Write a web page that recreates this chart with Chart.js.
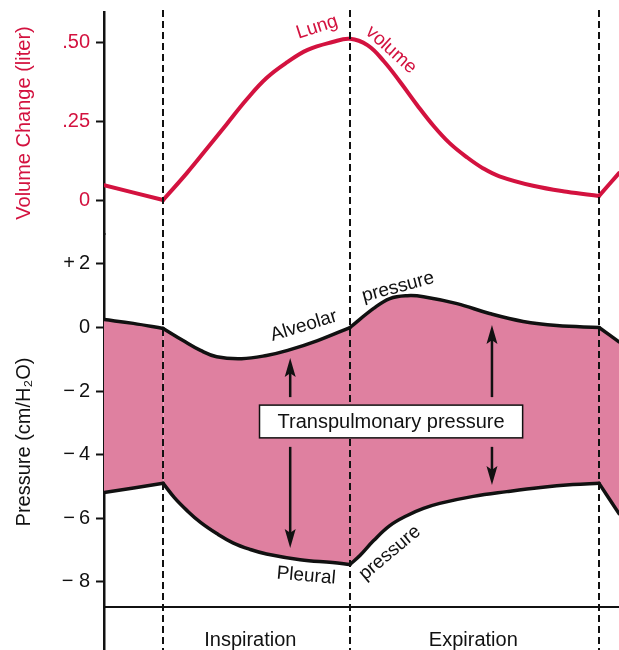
<!DOCTYPE html>
<html>
<head>
<meta charset="utf-8">
<script src="https://cdn.jsdelivr.net/npm/chart.js@4.4.1/dist/chart.umd.min.js"></script>
<style>
  html, body { margin: 0; padding: 0; background: #fff; }
  canvas { display: block; }
</style>
</head>
<body>
<canvas id="c" width="619" height="650"></canvas>
<script>
// Lung volume, alveolar and pleural pressure over one breath.
// x is time in seconds from the start of inspiration.
const phaseBounds = [0, 1.5, 3.5];
const phaseLabels = ["Inspiration", "Expiration"];
const phaseLabelT = [0.7, 2.49];

const volumeT = [-0.475, 0, 0.19, 0.35, 0.51, 0.67, 0.83, 1.0, 1.16, 1.36, 1.5, 1.64, 1.77, 1.9, 2.04, 2.17, 2.3, 2.44, 2.57, 2.7, 2.97, 3.24, 3.5, 3.66];
const volumeL = [0.047, 0, 0.085, 0.162, 0.24, 0.318, 0.386, 0.437, 0.475, 0.5, 0.51, 0.49, 0.44, 0.375, 0.3, 0.235, 0.18, 0.135, 0.1, 0.075, 0.045, 0.026, 0.013, 0.085];

const alveolarT = [-0.475, -0.24, 0, 0.16, 0.3, 0.43, 0.63, 0.83, 1.0, 1.24, 1.5, 1.69, 1.82, 1.96, 2.09, 2.36, 2.62, 2.89, 3.16, 3.5, 3.66];
const alveolarP = [0.25, 0.13, -0.03, -0.41, -0.72, -0.92, -0.98, -0.88, -0.72, -0.41, 0, 0.6, 0.91, 1.0, 0.97, 0.75, 0.44, 0.19, 0.06, 0, -0.45];

const pleuralT = [-0.475, 0, 0.09, 0.19, 0.3, 0.43, 0.56, 0.7, 0.83, 1.1, 1.36, 1.5, 1.58, 1.69, 1.82, 1.96, 2.09, 2.22, 2.49, 2.76, 3.03, 3.29, 3.5, 3.66];
const pleuralP = [-5.19, -4.9, -5.35, -5.75, -6.13, -6.48, -6.77, -6.98, -7.12, -7.3, -7.39, -7.45, -7.17, -6.7, -6.23, -5.91, -5.69, -5.53, -5.31, -5.16, -5.03, -4.94, -4.9, -5.85];

const volumeTicks = [0, 0.25, 0.5];
const volumeTickLabels = ["0", ".25", ".50"];
const pressureTicks = [2, 0, -2, -4, -6, -8];
const pressureTickLabels = ["+\u20092", "0", "\u2212\u20092", "\u2212\u20094", "\u2212\u20096", "\u2212 8"];

// arrows: time, and the pressures their heads point at
const arrowT = [1.02, 2.64];
const arrowUpTip = [-0.96, 0.08];
const arrowDownTip = [-6.93, -4.95];

const FONT = "'Liberation Sans', Arial, Helvetica, sans-serif";
const CRIMSON = "#d3123f";
const PINK = "#df80a0";
const INK = "#111";

const curveLabels = [
  { text: "Lung", t: 1.236, v: 0.547, axis: "volume", angle: -18, color: CRIMSON },
  { text: "volume", t: 1.83, v: 0.475, axis: "volume", angle: 42, color: CRIMSON },
  { text: "Alveolar", t: 1.13, v: 0.05, axis: "pressure", angle: -17, color: INK },
  { text: "pressure", t: 1.886, v: 1.27, axis: "pressure", angle: -15, color: INK },
  { text: "Pleural", t: 1.148, v: -7.81, axis: "pressure", angle: 5, color: INK },
  { text: "pressure", t: 1.82, v: -7.09, axis: "pressure", angle: -40, color: INK },
];

// split a curve at phase boundaries so the corners stay sharp
function split(ts, vs, cuts) {
  const segs = [[]];
  ts.forEach((t, i) => {
    const pt = { x: t, y: vs[i] };
    segs[segs.length - 1].push(pt);
    if (cuts.includes(t) && i > 0 && i < ts.length - 1) segs.push([pt]);
  });
  return segs;
}

const volSegs = split(volumeT, volumeL, [0, 3.5]);
const plSegs = split(pleuralT, pleuralP, phaseBounds);
const alvSegs = split(alveolarT, alveolarP, phaseBounds);

const base = {
  pointRadius: 0, tension: 0.4, fill: false,
  borderCapStyle: "round", borderJoinStyle: "round",
};
const datasets = [
  ...volSegs.map((d) => ({ ...base, data: d, yAxisID: "volume", borderColor: CRIMSON, borderWidth: 4 })),
  ...plSegs.map((d) => ({ ...base, data: d, yAxisID: "pressure", borderColor: INK, borderWidth: 3.5 })),
  ...alvSegs.map((d, i) => ({
    ...base, data: d, yAxisID: "pressure", borderColor: INK, borderWidth: 3.5,
    fill: volSegs.length + i, backgroundColor: PINK,
  })),
];

function arrow(ctx, x, y0, y1) {
  const dir = Math.sign(y1 - y0), head = 19, half = 5.5;
  ctx.lineWidth = 2.5;
  ctx.beginPath();
  ctx.moveTo(x, y0);
  ctx.lineTo(x, y1 - dir * head * 0.7);
  ctx.stroke();
  ctx.beginPath();
  ctx.moveTo(x, y1);
  ctx.lineTo(x - half, y1 - dir * head);
  ctx.lineTo(x, y1 - dir * head * 0.8);
  ctx.lineTo(x + half, y1 - dir * head);
  ctx.closePath();
  ctx.fill();
}

const figure = {
  id: "figure",
  afterDatasetsDraw(chart) {
    const { ctx, chartArea: a, scales } = chart;
    const x = scales.x, p = scales.pressure;
    ctx.save();

    // phase boundaries
    ctx.strokeStyle = INK;
    ctx.lineWidth = 2;
    ctx.setLineDash([7, 4]);
    phaseBounds.forEach((t) => {
      const px = Math.round(x.getPixelForValue(t));
      ctx.beginPath();
      ctx.moveTo(px, a.top - 2);
      ctx.lineTo(px, chart.height);
      ctx.stroke();
    });
    ctx.setLineDash([]);

    // transpulmonary arrows and box
    const boxTop = p.getPixelForValue(-2.44), boxBot = p.getPixelForValue(-3.47);
    ctx.fillStyle = INK;
    arrowT.forEach((t, i) => {
      const px = x.getPixelForValue(t);
      arrow(ctx, px, boxTop - 8, p.getPixelForValue(arrowUpTip[i]));
      arrow(ctx, px, boxBot + 9, p.getPixelForValue(arrowDownTip[i]));
    });
    ctx.font = `20px ${FONT}`;
    const label = "Transpulmonary pressure";
    const w = ctx.measureText(label).width + 36;
    const cx = x.getPixelForValue(1.83);
    ctx.fillStyle = "#fff";
    ctx.fillRect(cx - w / 2, boxTop, w, boxBot - boxTop);
    ctx.lineWidth = 1.5;
    ctx.strokeRect(cx - w / 2, boxTop, w, boxBot - boxTop);
    ctx.fillStyle = INK;
    ctx.textAlign = "center";
    ctx.textBaseline = "middle";
    ctx.fillText(label, cx, (boxTop + boxBot) / 2 + 1);

    // curve names
    ctx.font = `19px ${FONT}`;
    curveLabels.forEach((l) => {
      ctx.save();
      ctx.translate(x.getPixelForValue(l.t), scales[l.axis].getPixelForValue(l.v));
      ctx.rotate((l.angle * Math.PI) / 180);
      ctx.fillStyle = l.color;
      ctx.fillText(l.text, 0, 0);
      ctx.restore();
    });
    ctx.restore();
  },
};

const tickGrid = {
  drawOnChartArea: false, drawTicks: true, tickLength: 8,
  tickColor: INK, tickWidth: 2,
};

new Chart(document.getElementById("c"), {
  type: "line",
  data: { datasets },
  plugins: [figure],
  options: {
    responsive: false,
    animation: false,
    devicePixelRatio: 1,
    layout: { padding: { top: 12, left: 0, right: 0, bottom: 0 } },
    plugins: { legend: { display: false }, tooltip: { enabled: false } },
    scales: {
      x: {
        type: "linear",
        min: -0.475,
        max: 3.66,
        position: { pressure: -8.79 },
        grid: { display: false },
        border: { display: true, color: INK, width: 2 },
        ticks: {
          padding: 13, color: INK, autoSkip: false, maxRotation: 0,
          font: { size: 20, family: FONT },
          callback: (v, i) => phaseLabels[i],
        },
        afterBuildTicks: (s) => { s.ticks = phaseLabelT.map((value) => ({ value })); },
        afterFit: (s) => { s.paddingLeft = 0; s.paddingRight = 0; },
      },
      volume: {
        type: "linear",
        position: "left",
        stack: "left",
        stackWeight: 222,
        weight: 1,
        min: -0.1076,
        max: 0.595,
        afterBuildTicks: (s) => { s.ticks = volumeTicks.map((value) => ({ value })); },
        afterFit: (s) => { s.width = 104; s.paddingTop = 0; s.paddingBottom = 0; },
        ticks: {
          color: CRIMSON, padding: 6, autoSkip: false,
          font: { size: 20, family: FONT },
          callback: (v, i) => volumeTickLabels[i],
        },
        grid: tickGrid,
        border: { color: INK, width: 2.5 },
        title: {
          display: true, text: "Volume Change (liter)", color: CRIMSON,
          font: { size: 20, family: FONT }, padding: { top: 12, bottom: 0 },
        },
      },
      pressure: {
        type: "linear",
        position: "left",
        stack: "left",
        stackWeight: 416,
        weight: 0,
        min: -10.14,
        max: 2.94,
        afterBuildTicks: (s) => { s.ticks = pressureTicks.map((value) => ({ value })); },
        afterFit: (s) => { s.width = 104; s.paddingTop = 0; s.paddingBottom = 0; },
        ticks: {
          color: INK, padding: 6, autoSkip: false,
          font: { size: 20, family: FONT },
          callback: (v, i) => pressureTickLabels[i],
        },
        grid: tickGrid,
        border: { color: INK, width: 2.5 },
        title: {
          display: true, text: "Pressure (cm/H\u2082O)", color: INK,
          font: { size: 20, family: FONT }, padding: { top: 12, bottom: 0 },
        },
      },
    },
  },
});
</script>
</body>
</html>
